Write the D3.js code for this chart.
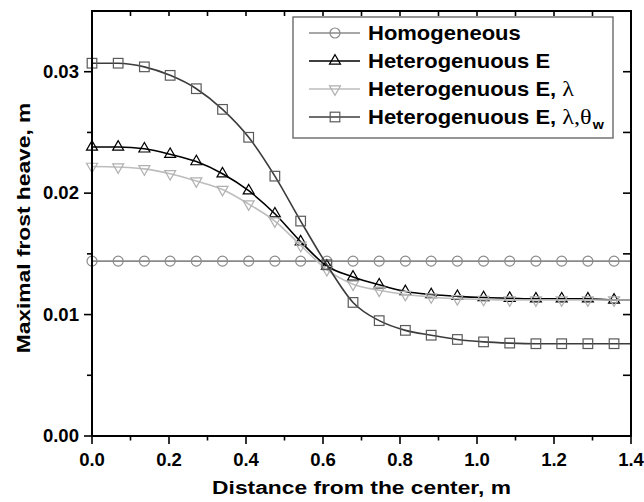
<!DOCTYPE html>
<html>
<head>
<meta charset="utf-8">
<script src="https://cdn.jsdelivr.net/npm/d3@7"></script>
<style>
  html, body { margin: 0; padding: 0; background: #fff; }
  svg text { font-family: "Liberation Sans", Arial, sans-serif; font-weight: bold; fill: #000; }
</style>
</head>
<body>
<svg id="chart" width="644" height="502"></svg>
<script>
// Distance from the center (m) where markers are placed; the curves run on to 1.4
const distance = [0.000, 0.068, 0.136, 0.203, 0.271, 0.339, 0.407, 0.475, 0.542, 0.610,
                  0.678, 0.746, 0.814, 0.881, 0.949, 1.017, 1.085, 1.153, 1.220, 1.288, 1.356, 1.400];

// Maximal frost heave (m) for each model
const homogeneous = [0.0144, 0.0144, 0.0144, 0.0144, 0.0144, 0.0144, 0.0144, 0.0144, 0.0144, 0.0144,
                     0.0144, 0.0144, 0.0144, 0.0144, 0.0144, 0.0144, 0.0144, 0.0144, 0.0144, 0.0144, 0.0144, 0.0144];
const heteroE = [0.0238, 0.0238, 0.02365, 0.0232, 0.0226, 0.0216, 0.0202, 0.0183, 0.0160, 0.0140,
                 0.0131, 0.01245, 0.0119, 0.01165, 0.0115, 0.0114, 0.01135, 0.0113, 0.0113, 0.0113, 0.0112, 0.0112];
const heteroELambda = [0.0222, 0.02215, 0.0220, 0.0216, 0.0210, 0.0203, 0.0191, 0.0177, 0.0157, 0.0137,
                       0.0125, 0.0120, 0.01165, 0.01145, 0.0113, 0.01125, 0.0112, 0.0112, 0.0112, 0.0112, 0.0112, 0.0112];
const heteroELambdaTheta = [0.0307, 0.0307, 0.0304, 0.0297, 0.0286, 0.0269, 0.0246, 0.0214, 0.0177, 0.0141,
                            0.0110, 0.0095, 0.0087, 0.0083, 0.00795, 0.00775, 0.00765, 0.0076, 0.0076, 0.0076, 0.0076, 0.0076];

const markerCount = 21;

const xTicks = [0.0, 0.2, 0.4, 0.6, 0.8, 1.0, 1.2, 1.4];
const yTicks = [0.00, 0.01, 0.02, 0.03];

const seriesNames = ["Homogeneous", "Heterogenuous E", "Heterogenuous E, \u03bb", "Heterogenuous E, \u03bb,\u03b8"];

const series = [
  { name: seriesNames[0], values: homogeneous,        line: "#8a8a8a", mark: "#8a8a8a", symbol: "circle" },
  { name: seriesNames[1], values: heteroE,            line: "#000000", mark: "#000000", symbol: "up" },
  { name: seriesNames[2], values: heteroELambda,      line: "#bdbdbd", mark: "#b0b0b0", symbol: "down" },
  { name: seriesNames[3], values: heteroELambdaTheta, line: "#3c3c3c", mark: "#5a5a5a", symbol: "square" }
];

const svg = d3.select("#chart");
const margin = { left: 92, right: 13, top: 11, bottom: 66 };
const W = 644, H = 502;

const x = d3.scaleLinear().domain([0, 1.4]).range([margin.left, W - margin.right]);
const y = d3.scaleLinear().domain([0, 0.035]).range([H - margin.bottom, margin.top]);

// stretched text helper (the lettering is slightly wide)
function label(g, tx, ty, text, size, sx, anchor, rot) {
  const t = g.append("text")
    .attr("transform", `translate(${tx},${ty})` + (rot ? ` rotate(${rot})` : "") + ` scale(${sx},1)`)
    .attr("font-size", size)
    .attr("text-anchor", anchor || "start")
    .text(text);
  return t;
}

// ---- series lines and markers
const lineGen = d3.line()
  .x((d, i) => x(distance[i]))
  .y(d => y(d))
  .curve(d3.curveMonotoneX);

function drawMarker(g, cx, cy, kind, color) {
  if (kind === "circle") {
    g.append("circle").attr("cx", cx).attr("cy", cy).attr("r", 5)
      .attr("fill", "none").attr("stroke", color).attr("stroke-width", 1.2);
  } else if (kind === "square") {
    g.append("rect").attr("x", cx - 4.8).attr("y", cy - 4.8).attr("width", 9.6).attr("height", 9.6)
      .attr("fill", "none").attr("stroke", color).attr("stroke-width", 1.2);
  } else {
    const s = kind === "up" ? 1 : -1;
    const h = 9.5, w = 11;
    const pts = [[cx, cy - s * h * 2 / 3], [cx - w / 2, cy + s * h / 3], [cx + w / 2, cy + s * h / 3]];
    g.append("path").attr("d", "M" + pts.map(p => p.join(",")).join("L") + "Z")
      .attr("fill", "none").attr("stroke", color).attr("stroke-width", 1.2);
  }
}

const plot = svg.append("g");
series.forEach(s => {
  plot.append("path")
    .attr("d", lineGen(s.values))
    .attr("fill", "none")
    .attr("stroke", s.line)
    .attr("stroke-width", 1.6);
  const mg = plot.append("g");
  s.values.slice(0, markerCount).forEach((v, i) => drawMarker(mg, x(distance[i]), y(v), s.symbol, s.mark));
});

// ---- axes
const axisG = svg.append("g");
const x0 = x(0), x1 = x(1.4), yb = y(0), yt = y(0.035);

// frame
axisG.append("rect").attr("x", x0).attr("y", yt).attr("width", x1 - x0).attr("height", yb - yt)
  .attr("fill", "none").attr("stroke", "#000").attr("stroke-width", 2);

// bottom ticks (outward), top ticks (inward)
d3.range(0, 15).forEach(k => {
  const v = k / 10;
  const major = k % 2 === 0;
  axisG.append("line").attr("x1", x(v)).attr("x2", x(v)).attr("y1", yb).attr("y2", yb + (major ? 8 : 4.5))
    .attr("stroke", "#000").attr("stroke-width", 1.6);
  if (k > 0 && k < 14)
    axisG.append("line").attr("x1", x(v)).attr("x2", x(v)).attr("y1", yt).attr("y2", yt + 5)
      .attr("stroke", "#000").attr("stroke-width", 1.6);
});
// left ticks (outward), right ticks (inward)
d3.range(0, 7).forEach(k => {
  const v = k * 0.005;
  const major = k % 2 === 0;
  axisG.append("line").attr("x1", x0).attr("x2", x0 - (major ? 8 : 5)).attr("y1", y(v)).attr("y2", y(v))
    .attr("stroke", "#000").attr("stroke-width", 1.6);
  if (k > 0)
    axisG.append("line").attr("x1", x1).attr("x2", x1 - 8).attr("y1", y(v)).attr("y2", y(v))
      .attr("stroke", "#000").attr("stroke-width", 1.6);
});

xTicks.forEach(v => label(axisG, x(v), yb + 30, v.toFixed(1), 17.5, 1.06, "middle"));
yTicks.forEach(v => label(axisG, x0 - 13, y(v) + 6, v.toFixed(2), 17.5, 1.06, "end"));

label(axisG, (x0 + x1) / 2, 494, "Distance from the center, m", 19, 1.2, "middle");
label(axisG, 30, 228, "Maximal frost heave, m", 19, 1.2, "middle", -90);

// ---- legend
const lg = svg.append("g");
lg.append("rect").attr("x", 293).attr("y", 17).attr("width", 320).attr("height", 121)
  .attr("fill", "#fff").attr("stroke", "#6a6a6a").attr("stroke-width", 1.4);
series.forEach((s, i) => {
  const cy = 33 + i * 28;
  lg.append("line").attr("x1", 309).attr("x2", 360).attr("y1", cy).attr("y2", cy)
    .attr("stroke", s.line).attr("stroke-width", 1.6);
  drawMarker(lg, 335, cy, s.symbol, s.mark);
  const t = label(lg, 368, cy + 7, "", 20, 1.1, "start");
  const parts = s.name.split(", ");
  t.append("tspan").text(parts[0]);
  if (parts.length > 1) {
    t.append("tspan").text(", ");
    t.append("tspan").attr("font-family", "Liberation Serif, serif").attr("font-weight", "normal")
      .attr("font-size", 22).text(parts[1]);
    if (i === 3) {
      t.append("tspan").attr("font-size", 13).attr("dy", 5).attr("dx", 1).text("w");
    }
  }
});
</script>
</body>
</html>
